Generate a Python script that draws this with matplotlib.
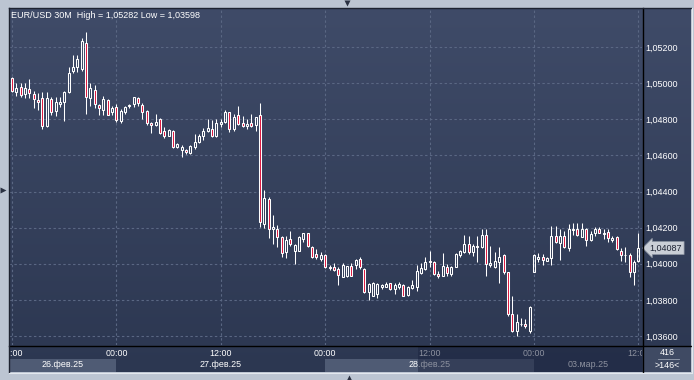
import numpy as np
import matplotlib.pyplot as plt
import matplotlib.transforms as mtransforms
from matplotlib.patches import Rectangle
from matplotlib.lines import Line2D
from matplotlib.ticker import FuncFormatter

plt.rcParams['font.family'] = ['Liberation Sans', 'DejaVu Sans']

# ---------------- data (EUR/USD, 30M bars, first bar = 26.02 11:30) ----------------
opens = [1.05069, 1.05029, 1.04949, 1.04981, 1.04940, 1.04968, 1.04940, 1.04909, 1.04918, 1.04765,
         1.04912, 1.04844, 1.04885, 1.04894, 1.04949, 1.05065, 1.05088, 1.05079, 1.05223, 1.04918,
         1.04962, 1.04881, 1.04851, 1.04907, 1.04838, 1.04870, 1.04788, 1.04838, 1.04871, 1.04885,
         1.04918, 1.04881, 1.04848, 1.04777, 1.04770, 1.04802, 1.04737, 1.04709, 1.04737, 1.04644,
         1.04630, 1.04632, 1.04611, 1.04648, 1.04672, 1.04705, 1.04733, 1.04746, 1.04705, 1.04774,
         1.04783, 1.04838, 1.04746, 1.04825, 1.04779, 1.04765, 1.04779, 1.04770, 1.04824, 1.04220,
         1.04358, 1.04192, 1.04192, 1.04150, 1.04063, 1.04137, 1.04068, 1.04072, 1.04137, 1.04168,
         1.04090, 1.04054, 1.04026, 1.04048, 1.03981, 1.03983, 1.03971, 1.03928, 1.03930, 1.03989,
         1.03993, 1.04026, 1.03971, 1.03845, 1.03819, 1.03832, 1.03869, 1.03874, 1.03891, 1.03860,
         1.03874, 1.03884, 1.03828, 1.03864, 1.03873, 1.03948, 1.03971, 1.04007, 1.04011, 1.03943,
         1.03934, 1.03983, 1.03946, 1.03983, 1.04048, 1.04066, 1.04109, 1.04063, 1.04096, 1.04090,
         1.04161, 1.03993, 1.03980, 1.04007, 1.04050, 1.03952, 1.03721, 1.03629, 1.03666, 1.03666,
         1.03629, 1.03957, 1.04026, 1.04039, 1.04013, 1.04032, 1.04155, 1.04115, 1.04155, 1.04087,
         1.04187, 1.04192, 1.04150, 1.04192, 1.04131, 1.04168, 1.04192, 1.04164, 1.04177, 1.04131,
         1.04150, 1.04072, 1.04048, 1.04050, 1.03957, 1.04017]
highs = [1.05097, 1.05036, 1.05003, 1.05003, 1.05003, 1.05021, 1.04955, 1.04947, 1.04951, 1.04949,
         1.04925, 1.04921, 1.04925, 1.04955, 1.05091, 1.05156, 1.05156, 1.05250, 1.05282, 1.04999,
         1.04990, 1.04885, 1.04931, 1.04910, 1.04875, 1.04885, 1.04857, 1.04875, 1.04885, 1.04925,
         1.04925, 1.04888, 1.04853, 1.04787, 1.04829, 1.04805, 1.04755, 1.04744, 1.04741, 1.04669,
         1.04658, 1.04637, 1.04659, 1.04719, 1.04719, 1.04750, 1.04802, 1.04796, 1.04802, 1.04802,
         1.04853, 1.04842, 1.04829, 1.04875, 1.04820, 1.04802, 1.04829, 1.04814, 1.04888, 1.04408,
         1.04367, 1.04271, 1.04216, 1.04155, 1.04151, 1.04179, 1.04112, 1.04155, 1.04173, 1.04173,
         1.04100, 1.04081, 1.04063, 1.04054, 1.03993, 1.04004, 1.03980, 1.04002, 1.03989, 1.04004,
         1.04026, 1.04035, 1.03976, 1.03896, 1.03900, 1.03893, 1.03888, 1.03900, 1.03896, 1.03891,
         1.03900, 1.03888, 1.03878, 1.03911, 1.03994, 1.04002, 1.04039, 1.04072, 1.04017, 1.03961,
         1.04057, 1.03998, 1.03989, 1.04059, 1.04076, 1.04161, 1.04151, 1.04109, 1.04155, 1.04192,
         1.04192, 1.04100, 1.04063, 1.04094, 1.04054, 1.03956, 1.03823, 1.03721, 1.03699, 1.03693,
         1.03767, 1.04054, 1.04061, 1.04054, 1.04039, 1.04211, 1.04211, 1.04192, 1.04183, 1.04220,
         1.04223, 1.04223, 1.04223, 1.04198, 1.04179, 1.04201, 1.04201, 1.04192, 1.04192, 1.04155,
         1.04155, 1.04087, 1.04094, 1.04057, 1.04020, 1.04173]
lows = [1.05058, 1.04949, 1.04931, 1.04921, 1.04918, 1.04918, 1.04863, 1.04851, 1.04746, 1.04759,
        1.04825, 1.04820, 1.04870, 1.04792, 1.04943, 1.05056, 1.05064, 1.05065, 1.04829, 1.04871,
        1.04863, 1.04825, 1.04824, 1.04822, 1.04825, 1.04783, 1.04777, 1.04829, 1.04863, 1.04870,
        1.04875, 1.04802, 1.04770, 1.04724, 1.04765, 1.04720, 1.04694, 1.04707, 1.04639, 1.04639,
        1.04589, 1.04609, 1.04609, 1.04635, 1.04667, 1.04685, 1.04727, 1.04700, 1.04700, 1.04755,
        1.04779, 1.04727, 1.04733, 1.04768, 1.04755, 1.04746, 1.04755, 1.04737, 1.04201, 1.04198,
        1.04142, 1.04109, 1.04090, 1.04035, 1.04032, 1.04100, 1.03998, 1.04068, 1.04118, 1.04094,
        1.04032, 1.04026, 1.04013, 1.03976, 1.03967, 1.03961, 1.03884, 1.03924, 1.03924, 1.03930,
        1.03971, 1.03971, 1.03838, 1.03799, 1.03819, 1.03808, 1.03860, 1.03869, 1.03856, 1.03832,
        1.03860, 1.03823, 1.03823, 1.03860, 1.03847, 1.03943, 1.03965, 1.03980, 1.03939, 1.03921,
        1.03930, 1.03934, 1.03934, 1.03980, 1.04035, 1.04057, 1.04054, 1.04044, 1.04007, 1.04087,
        1.03934, 1.03983, 1.03976, 1.03896, 1.03946, 1.03712, 1.03623, 1.03598, 1.03657, 1.03647,
        1.03619, 1.03952, 1.04007, 1.03994, 1.04013, 1.03993, 1.04115, 1.04020, 1.04087, 1.04072,
        1.04161, 1.04155, 1.04146, 1.04096, 1.04127, 1.04155, 1.04168, 1.04137, 1.04118, 1.04118,
        1.04076, 1.04013, 1.04007, 1.03924, 1.03884, 1.04007]
closes = [1.05091, 1.04955, 1.04971, 1.04936, 1.04973, 1.04946, 1.04912, 1.04897, 1.04763, 1.04918,
          1.04838, 1.04897, 1.04897, 1.04949, 1.05056, 1.05091, 1.05134, 1.05235, 1.04921, 1.04973,
          1.04885, 1.04863, 1.04912, 1.04825, 1.04863, 1.04796, 1.04844, 1.04866, 1.04881, 1.04921,
          1.04888, 1.04842, 1.04777, 1.04770, 1.04783, 1.04724, 1.04705, 1.04742, 1.04648, 1.04663,
          1.04648, 1.04620, 1.04650, 1.04676, 1.04709, 1.04737, 1.04752, 1.04705, 1.04779, 1.04783,
          1.04842, 1.04746, 1.04811, 1.04776, 1.04761, 1.04774, 1.04763, 1.04814, 1.04229, 1.04364,
          1.04192, 1.04201, 1.04146, 1.04057, 1.04131, 1.04109, 1.04105, 1.04146, 1.04168, 1.04100,
          1.04035, 1.04035, 1.04048, 1.03980, 1.03978, 1.03965, 1.03937, 1.03993, 1.03985, 1.03934,
          1.04020, 1.03980, 1.03841, 1.03888, 1.03891, 1.03888, 1.03884, 1.03888, 1.03860, 1.03884,
          1.03888, 1.03823, 1.03873, 1.03882, 1.03961, 1.03974, 1.04011, 1.04017, 1.03946, 1.03934,
          1.03989, 1.03948, 1.03983, 1.04054, 1.04068, 1.04109, 1.04063, 1.04100, 1.04094, 1.04161,
          1.03998, 1.04002, 1.04013, 1.04039, 1.03952, 1.03721, 1.03629, 1.03679, 1.03664, 1.03655,
          1.03762, 1.04050, 1.04039, 1.04020, 1.04032, 1.04155, 1.04118, 1.04155, 1.04094, 1.04192,
          1.04192, 1.04159, 1.04192, 1.04131, 1.04165, 1.04192, 1.04173, 1.04173, 1.04142, 1.04142,
          1.04081, 1.04048, 1.04046, 1.03957, 1.04011, 1.04087]

price_ticks = [1.036, 1.038, 1.040, 1.042, 1.044, 1.046, 1.048, 1.050, 1.052]
time_ticks = [0, 24, 48, 72, 96, 120, 144]          # bar index
time_labels = ['12:00', '00:00', '12:00', '00:00', '12:00', '00:00', '12:00']
day_starts = [-24, 24, 72, 120]
day_labels = ['26.фев.25', '27.фев.25', '28.фев.25', '03.мар.25']
title = 'EUR/USD 30M  High = 1,05282 Low = 1,03598'
bars_total, bars_shown = '416', '>146<'

# ---------------- colours ----------------
frame_col = '#bcc5d2'
bg_top, bg_bot = np.array([63, 75, 104]), np.array([44, 55, 81])
grid_col = '#5a6783'
red = '#dc143c'

W, H = 694, 380
fig = plt.figure(figsize=(W / 100, H / 100), dpi=100, facecolor=frame_col)

def fbox(x0, y0, x1, y1):
    # pixel box (top-left origin) -> figure fraction rect
    return [x0 / W, 1 - y1 / H, (x1 - x0) / W, (y1 - y0) / H]

# gradient background behind chart + price panel
ax_bg = fig.add_axes(fbox(9, 8, 691, 372), zorder=0)
t = np.linspace(0, 1, 256)[:, None]
grad = (bg_top[None, :] * (1 - t) + bg_bot[None, :] * t) / 255.0
ax_bg.imshow(grad[:, None, :], aspect='auto', extent=[0, 1, 0, 1])
ax_bg.set_axis_off()

# ---------------- main chart ----------------
ax = fig.add_axes(fbox(9, 8, 642, 345), zorder=2)
ax.patch.set_visible(False)
x = np.arange(len(opens)) - 1
o, h, l, c = map(np.array, (opens, highs, lows, closes))
top = np.maximum(o, c)
bot = np.minimum(o, c)
up = c >= o

ax.vlines(x, top, h, color='white', lw=0.75, zorder=3)
ax.vlines(x, l, bot, color='white', lw=0.75, zorder=3)
body_h = np.maximum(top - bot, 0.00001)
ax.bar(x[up], body_h[up], bottom=bot[up], width=0.46, facecolor='none',
       edgecolor='white', lw=0.75, zorder=4)
ax.bar(x[~up], body_h[~up], bottom=bot[~up], width=0.46, facecolor=red,
       edgecolor='white', lw=0.75, zorder=4)

ax.set_xlim(-0.69, 144.83)
ax.set_ylim(1.035502, 1.054159)
ax.set_yticks(price_ticks)
ax.set_xticks(time_ticks)
ax.grid(True, color=grid_col, lw=0.8, ls=(0, (2.2, 2.2)))
ax.set_axisbelow(True)
ax.yaxis.tick_right()
ax.yaxis.set_major_formatter(FuncFormatter(lambda v, p: f'{v:.5f}'.replace('.', ',')))
ax.tick_params(axis='y', length=0, pad=2.5, labelsize=6.5, labelcolor='white')
ax.tick_params(axis='x', length=0, labelbottom=False)
for s in ax.spines.values():
    s.set_visible(False)

# current price marker
blend = mtransforms.blended_transform_factory(ax.transAxes, ax.transData)
ax.text(1.012, closes[-1], f'{closes[-1]:.5f}'.replace('.', ','), transform=blend,
        ha='left', va='center', fontsize=6.5, color='#1c2233', zorder=6, clip_on=False,
        bbox=dict(boxstyle='larrow,pad=0.22', fc='#c9ced6', ec='#8d95a3', lw=0.5))

# ---------------- time axis panel ----------------
axb = fig.add_axes(fbox(9, 346, 642, 372), zorder=1)
axb.set_facecolor('#3f4a63')
axb.set_xlim(ax.get_xlim())
axb.set_ylim(0, 1)
axb.set_axis_off()
xmin, xmax = ax.get_xlim()
for k, (ds, lab) in enumerate(zip(day_starts, day_labels)):
    a, b = max(ds, xmin), min(ds + 48, xmax)
    if k % 2 == 0:
        axb.add_patch(Rectangle((a, 0), b - a, 0.5, fc='#4f5b74', ec='none'))
    axb.text((a + b) / 2, 0.27, lab, ha='center', va='center', fontsize=6.4,
             color='white', clip_on=True)
for tt, lab in zip(time_ticks, time_labels):
    axb.text(tt, 0.73, lab, ha='center', va='center', fontsize=6.4, color='white', clip_on=True)
axb.patch.set_visible(True)

# dimmed overlay on the right part of the time axis
fig.add_artist(Rectangle((418 / W, 1 - 372 / H), (642 - 418) / W, 26 / H,
                         transform=fig.transFigure, fc='#1c2540', ec='none', alpha=0.5, zorder=5))

# bottom-right counter box
fig.add_artist(Rectangle((643 / W, 1 - 372 / H), 48 / W, 26 / H, transform=fig.transFigure,
                         fc='#3f4a63', ec='none', zorder=3))
fig.text(667 / W, 1 - 352.5 / H, bars_total, ha='center', va='center', fontsize=6.4,
         color='white', zorder=6)
fig.text(667 / W, 1 - 365.5 / H, bars_shown, ha='center', va='center', fontsize=6.4,
         color='white', zorder=6)
fig.add_artist(Line2D([658 / W, 679 / W], [1 - 359 / H] * 2, transform=fig.transFigure,
                      color='#9aa3b3', lw=0.6, zorder=6))

# frame lines
def fline(xs, ys, col, lw=1.0):
    fig.add_artist(Line2D([v / W for v in xs], [1 - v / H for v in ys],
                          transform=fig.transFigure, color=col, lw=lw, zorder=7))

fline([642.5, 642.5], [8, 372], 'black')
fline([9, 691], [345.5, 345.5], 'black')
fline([8.5, 8.5], [7.5, 372], '#1d2230')
fline([8.5, 691], [7.5, 7.5], '#1d2230')
fline([691.5, 691.5], [7.5, 372.5], '#e3e8ee', 0.8)
fline([8.5, 691.5], [372.5, 372.5], '#e3e8ee', 0.8)

# small navigation triangles
for (px, py, mk) in [(347, 2.5, 'v'), (349, 377.5, '^'), (2.5, 190, '>')]:
    fig.add_artist(Line2D([px / W], [1 - py / H], transform=fig.transFigure, marker=mk,
                          ms=4.5, color='#2a3142', mec='none', zorder=7))

fig.text(11 / W, 1 - 15 / H, title, ha='left', va='center', fontsize=6.5, color='white', zorder=6)

fig.savefig('out.png', dpi=100, facecolor=frame_col)
